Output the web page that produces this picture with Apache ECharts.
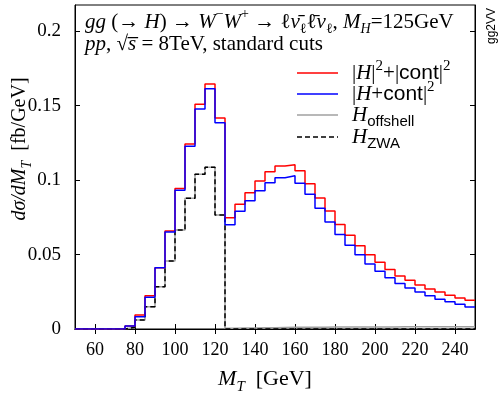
<!DOCTYPE html>
<html><head><meta charset="utf-8">
<script src="https://cdn.jsdelivr.net/npm/echarts@6/dist/echarts.min.js"></script>
<style>html,body{margin:0;padding:0;background:#fff}#c{width:498px;height:393px}</style>
</head><body><div id="c"></div>
<script>
// ---- data (bin lower edges in GeV, bin width 5 GeV) ----
const binLo = [50,55,60,65,70,75,80,85,90,95,100,105,110,115,120,125,130,135,140,145,
               150,155,160,165,170,175,180,185,190,195,200,205,210,215,220,225,230,235,240,245];
const binWidth = 5;
// |H|^2 + |cont|^2
const sumSq = [0,0,0,0,0,0.002,0.0094,0.0224,0.0411,0.0658,0.0944,0.1242,0.1508,0.1644,0.1416,
               0.0747,0.0837,0.0915,0.0993,0.1056,0.1094,0.1103,0.1063,0.0975,0.0879,0.0792,0.0702,
               0.0629,0.0559,0.0499,0.0448,0.0400,0.0356,0.0327,0.0295,0.0268,0.0248,0.0226,0.0208,0.0193];
// |H + cont|^2
const fullSq = [0,0,0,0,0,0.002,0.0083,0.0213,0.0411,0.0651,0.0931,0.1226,0.1477,0.1613,0.1385,
                0.0700,0.0790,0.0861,0.0928,0.0982,0.1016,0.1029,0.0978,0.0904,0.0810,0.0718,0.0634,
                0.0562,0.0499,0.0436,0.0387,0.0344,0.0306,0.0275,0.0248,0.0224,0.0199,0.0183,0.0166,0.0148];
// H offshell
const hOffshell = [0,0,0,0,0,0.0012,0.0060,0.0150,0.0284,0.0456,0.0664,0.0877,0.1038,0.1085,0.0765,
                   0.0005,0.0006,0.0007,0.0008,0.0009,0.0010,0.0011,0.0011,0.0012,0.0012,0.0013,0.0013,
                   0.0013,0.0014,0.0014,0.0014,0.0014,0.0015,0.0015,0.0015,0.0015,0.0015,0.0015,0.0015,0.0015];
// H ZWA
const hZwa = [0,0,0,0,0,0.0012,0.0060,0.0150,0.0284,0.0456,0.0664,0.0877,0.1038,0.1085,0.0765,
              0,0,0,0,0,0,0,0,0,0,0,0,0,0,0,0,0,0,0,0,0,0,0,0,0];
const xTicks = [60,80,100,120,140,160,180,200,220,240];
const yTicks = [0,0.05,0.1,0.15,0.2];
const xRange = [50,250];
const yRange = [0,0.2175];

function steps(v){
  const d = binLo.map((x,i)=>[x,v[i]]);
  d.push([binLo[binLo.length-1]+binWidth, v[v.length-1]]);
  return d;
}

const SERIF = '"Liberation Serif", "DejaVu Serif", serif';
const SANS = '"Liberation Sans", "DejaVu Sans", sans-serif';
function richSet(fs, ss, sfs){
  const lh = Math.round(fs*1.4);
  return {
    i:{fontFamily:SERIF,fontStyle:'italic',fontSize:fs,lineHeight:lh,color:'#000'},
    r:{fontFamily:SERIF,fontSize:fs,lineHeight:lh,color:'#000'},
    sup:{fontFamily:SERIF,fontSize:ss,lineHeight:ss,verticalAlign:'top',color:'#000'},
    sub:{fontFamily:SERIF,fontStyle:'italic',fontSize:ss,lineHeight:ss,verticalAlign:'bottom',color:'#000'},
    subr:{fontFamily:SERIF,fontSize:ss,lineHeight:ss,verticalAlign:'bottom',color:'#000'},
    sf:{fontFamily:SANS,fontSize:sfs||fs,lineHeight:lh,color:'#000'},
    sfsub:{fontFamily:SANS,fontSize:ss,lineHeight:ss,verticalAlign:'bottom',color:'#000'}
  };
}
function txt(x,y,text,fs,ss,opts){
  opts = opts||{};
  return {type:'text',x,y,rotation:opts.rotation||0,style:{text,rich:richSet(fs,ss,opts.sfs),
    fontFamily:SERIF,fontSize:fs,lineHeight:Math.round(fs*1.4),fill:'#000',
    align:opts.align||'left',verticalAlign:'middle'}};
}

const tickStyle = {color:'#000',width:1};
const chart = echarts.init(document.getElementById('c'),null,{renderer:'canvas'});
const legendItems = [
  {color:'#ff0000', dash:null, text:'|{i|H}|{sup|2}+|{sf|cont}|{sup|2}'},
  {color:'#0000ff', dash:null, text:'|{i|H}+{sf|cont}|{sup|2}'},
  {color:'#a0a0a0', dash:null, text:'{i|H}{sfsub|offshell}'},
  {color:'#000000', dash:[5,3], text:'{i|H}{sfsub|ZWA}'}
];
const legendY = [73,94,115,137];
const graphics = [];
legendItems.forEach((it,k)=>{
  graphics.push({type:'line',shape:{x1:297,y1:legendY[k],x2:338,y2:legendY[k]},
    style:{stroke:it.color,lineWidth:1.5,lineDash:it.dash}});
  graphics.push(txt(352,legendY[k],it.text,21,15,{sfs:21}));
});
graphics.push(txt(85,22,
  '{i|gg} (→ {i|H}) → {i|W}{sup|−}{i|W}{sup|+} → ℓ{i|ν̄}{subr|ℓ}ℓ̄{i|ν}{subr|ℓ}, {i|M}{sub|H}=125GeV',21,14));
graphics.push(txt(85,44,'{i|pp}, √{i|s̅} = 8TeV, standard cuts',21,14));
graphics.push(txt(265,379,'{i|M}{sub|T}  [GeV]',22,15,{align:'center'}));
graphics.push(txt(20,149,'{i|dσ/dM}{sub|T}  [fb/GeV]',20,14,{align:'center',rotation:Math.PI/2}));
graphics.push({type:'text',x:492,y:26,rotation:Math.PI/2,style:{
  text:'gg2VV',fontFamily:SANS,fontSize:12,fill:'#000',align:'center',verticalAlign:'middle'}});

function line(name,data,color,width,type,z){
  return {name,type:'line',step:'end',data:steps(data),showSymbol:false,symbol:'none',z,
    lineStyle:{color,width,type},itemStyle:{color},animation:false};
}

chart.setOption({
  animation:false,
  backgroundColor:'#fff',
  grid:{left:75,right:23,top:5,bottom:64,show:true,borderColor:'#000',borderWidth:1,backgroundColor:'transparent'},
  xAxis:[
    {type:'value',min:xRange[0],max:xRange[1],position:'bottom',
     axisLine:{lineStyle:tickStyle},splitLine:{show:false},
     axisTick:{inside:true,length:5,customValues:xTicks,lineStyle:tickStyle},
     axisLabel:{customValues:xTicks,color:'#000',fontFamily:SERIF,fontSize:18,margin:12}},
    {type:'value',min:xRange[0],max:xRange[1],position:'top',
     axisLine:{lineStyle:tickStyle},splitLine:{show:false},
     axisTick:{inside:true,length:5,customValues:xTicks,lineStyle:tickStyle},
     axisLabel:{show:false}}
  ],
  yAxis:[
    {type:'value',min:yRange[0],max:yRange[1],position:'left',
     axisLine:{show:true,lineStyle:tickStyle},splitLine:{show:false},
     axisTick:{show:true,inside:true,length:5,customValues:yTicks,lineStyle:tickStyle},
     axisLabel:{customValues:yTicks,color:'#000',fontFamily:SERIF,fontSize:19,margin:14,
       formatter:v=>String(+v.toFixed(3))}},
    {type:'value',min:yRange[0],max:yRange[1],position:'right',
     axisLine:{show:true,lineStyle:tickStyle},splitLine:{show:false},
     axisTick:{show:true,inside:true,length:5,customValues:yTicks,lineStyle:tickStyle},
     axisLabel:{show:false}}
  ],
  series:[
    line('H offshell',hOffshell,'#a0a0a0',1.5,'solid',2),
    line('H ZWA',hZwa,'#000000',1.5,[5,3],3),
    line('|H|^2+|cont|^2',sumSq,'#ff0000',1.5,'solid',4),
    line('|H+cont|^2',fullSq,'#0000ff',1.5,'solid',5)
  ],
  graphic:graphics
});
</script></body></html>
